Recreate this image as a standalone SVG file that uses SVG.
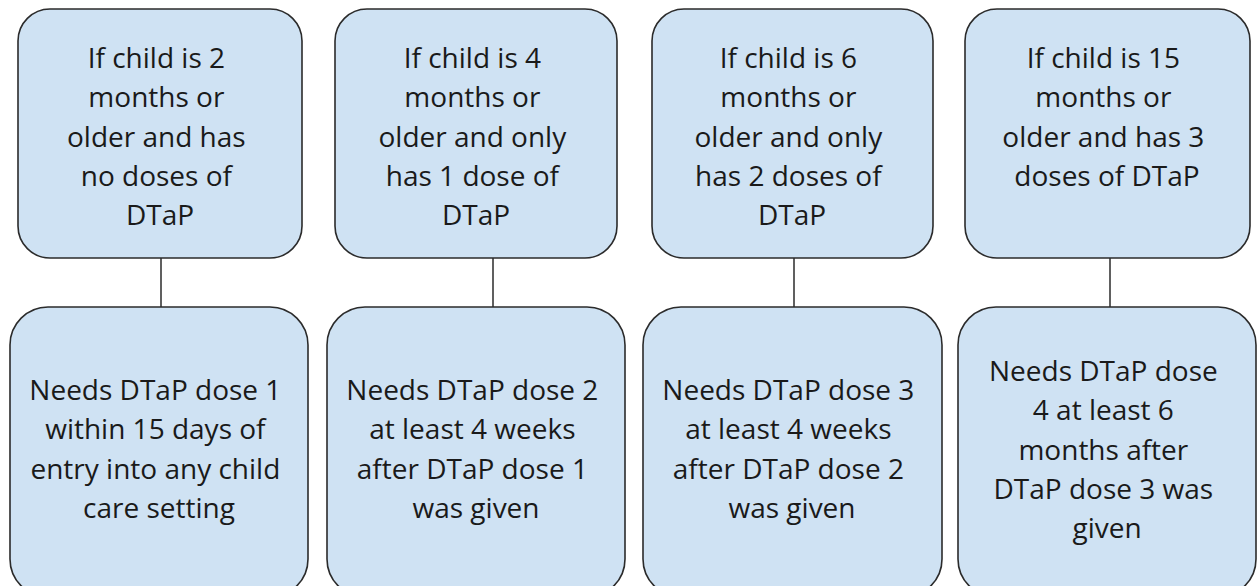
<svg xmlns="http://www.w3.org/2000/svg" width="1259" height="586" viewBox="0 0 1259 586">
  <style>
    .box { fill: #cfe2f3; stroke: #2b2b2b; stroke-width: 1.6; }
    .lbl { font-family: "Open Sans", "Liberation Sans", sans-serif; font-size: 28px; fill: #1a1a1a; text-anchor: middle; }
    .link { stroke: #2b2b2b; stroke-width: 1.5; fill: none; }
  </style>
  <rect width="1259" height="586" fill="#ffffff"/>

  <!-- connectors between condition and requirement boxes -->
  <g id="connectors">
    <line class="link" x1="161" y1="258" x2="161" y2="307"/>
    <line class="link" x1="493" y1="258" x2="493" y2="307"/>
    <line class="link" x1="794" y1="258" x2="794" y2="307"/>
    <line class="link" x1="1110" y1="258" x2="1110" y2="307"/>
  </g>

  <!-- condition boxes -->
  <g id="cond-2m">
    <rect class="box" x="18" y="9" width="284" height="249" rx="32"/>
    <text class="lbl">
      <tspan x="160" y="68">If child is 2</tspan>
      <tspan x="160" y="107">months or</tspan>
      <tspan x="160" y="147">older and has</tspan>
      <tspan x="160" y="186">no doses of</tspan>
      <tspan x="160" y="225">DTaP</tspan>
    </text>
  </g>
  <g id="cond-4m">
    <rect class="box" x="335" y="9" width="282" height="249" rx="32"/>
    <text class="lbl">
      <tspan x="476" y="68">If child is 4</tspan>
      <tspan x="476" y="107">months or</tspan>
      <tspan x="476" y="147">older and only</tspan>
      <tspan x="476" y="186">has 1 dose of</tspan>
      <tspan x="476" y="225">DTaP</tspan>
    </text>
  </g>
  <g id="cond-6m">
    <rect class="box" x="652" y="9" width="281" height="249" rx="32"/>
    <text class="lbl">
      <tspan x="792" y="68">If child is 6</tspan>
      <tspan x="792" y="107">months or</tspan>
      <tspan x="792" y="147">older and only</tspan>
      <tspan x="792" y="186">has 2 doses of</tspan>
      <tspan x="792" y="225">DTaP</tspan>
    </text>
  </g>
  <g id="cond-15m">
    <rect class="box" x="965" y="9" width="285" height="249" rx="32"/>
    <text class="lbl">
      <tspan x="1107" y="68">If child is 15</tspan>
      <tspan x="1107" y="107">months or</tspan>
      <tspan x="1107" y="147">older and has 3</tspan>
      <tspan x="1107" y="186">doses of DTaP</tspan>
    </text>
  </g>

  <!-- requirement boxes -->
  <g id="need-dose1">
    <rect class="box" x="10" y="307" width="298" height="290" rx="38"/>
    <text class="lbl">
      <tspan x="159" y="400">Needs DTaP dose 1</tspan>
      <tspan x="159" y="439">within 15 days of</tspan>
      <tspan x="159" y="479">entry into any child</tspan>
      <tspan x="159" y="518">care setting</tspan>
    </text>
  </g>
  <g id="need-dose2">
    <rect class="box" x="327" y="307" width="298" height="290" rx="38"/>
    <text class="lbl">
      <tspan x="476" y="400">Needs DTaP dose 2</tspan>
      <tspan x="476" y="439">at least 4 weeks</tspan>
      <tspan x="476" y="479">after DTaP dose 1</tspan>
      <tspan x="476" y="518">was given</tspan>
    </text>
  </g>
  <g id="need-dose3">
    <rect class="box" x="643" y="307" width="299" height="290" rx="38"/>
    <text class="lbl">
      <tspan x="792" y="400">Needs DTaP dose 3</tspan>
      <tspan x="792" y="439">at least 4 weeks</tspan>
      <tspan x="792" y="479">after DTaP dose 2</tspan>
      <tspan x="792" y="518">was given</tspan>
    </text>
  </g>
  <g id="need-dose4">
    <rect class="box" x="958" y="307" width="298" height="290" rx="38"/>
    <text class="lbl">
      <tspan x="1107" y="381">Needs DTaP dose</tspan>
      <tspan x="1107" y="420">4 at least 6</tspan>
      <tspan x="1107" y="460">months after</tspan>
      <tspan x="1107" y="499">DTaP dose 3 was</tspan>
      <tspan x="1107" y="538">given</tspan>
    </text>
  </g>
</svg>
